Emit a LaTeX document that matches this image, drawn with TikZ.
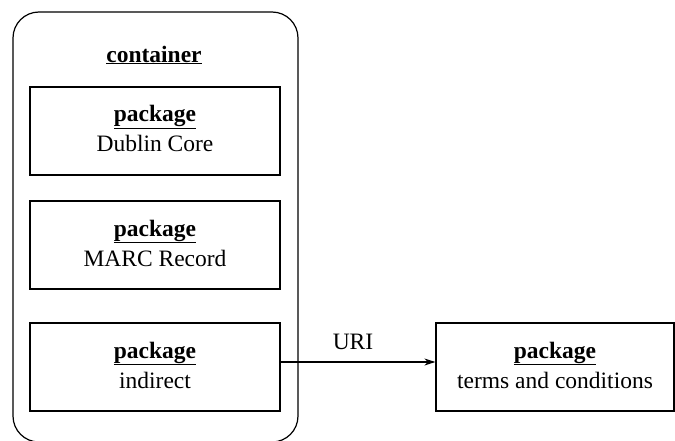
\documentclass[tikz,border=0pt]{standalone}
\usepackage{fontspec}
\setmainfont{Liberation Serif}
\usetikzlibrary{arrows.meta}
\newcommand{\pkgtext}[1]{\raisebox{5pt}{\begin{tabular}{@{}c@{}}\underline{\textbf{package}}\\#1\end{tabular}}}
\begin{document}
\begin{tikzpicture}[x=1pt,y=-1pt,
  pkg/.style={draw,line width=1.2pt,minimum width=250pt,minimum height=88pt,font=\fontsize{23.5}{30}\selectfont,inner sep=0pt},
  cont/.style={draw,line width=1.2pt,rounded corners=26pt,minimum width=285pt,minimum height=430pt,inner sep=0pt},
  lbl/.style={font=\fontsize{23.5}{28}\selectfont,inner sep=0pt}]
\useasboundingbox (0,0) rectangle (675,441);
\node[cont] (container) at (155.5,227) {};
\node[lbl] (ctitle) at (154,55) {\underline{\textbf{container}}};
\node[pkg] (dc) at (155,131) {\pkgtext{Dublin Core}};
\node[pkg] (marc) at (155,245) {\pkgtext{MARC Record}};
\node[pkg] (ind) at (155,367) {\pkgtext{indirect}};
\node[pkg,minimum width=238pt] (terms) at (555,367) {\pkgtext{terms and conditions}};
\coordinate (a) at (ind.east |- 0,362);
\coordinate (b) at (terms.west |- 0,362);
\draw[line width=1.2pt,-{Stealth[length=11pt,width=7pt]}] (a) -- node[lbl,above=12pt,xshift=-5pt] (uri) {URI} (b);
\end{tikzpicture}
\end{document}
